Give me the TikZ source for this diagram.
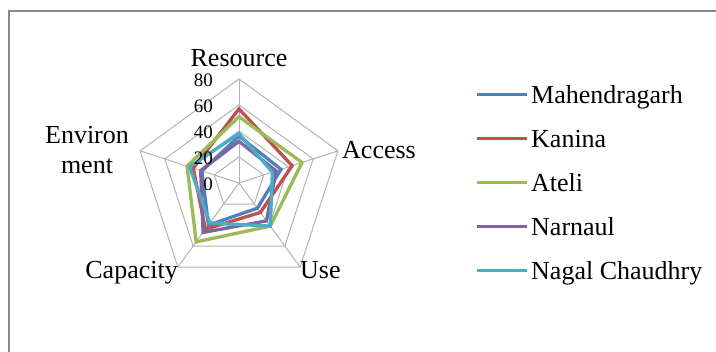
\documentclass[tikz,border=0pt]{standalone}
\usepackage{fontspec}
\setmainfont{Liberation Serif}
\definecolor{sMah}{HTML}{4F81BD}
\definecolor{sKan}{HTML}{C0504D}
\definecolor{sAte}{HTML}{9BBB59}
\definecolor{sNar}{HTML}{8064A2}
\definecolor{sNag}{HTML}{4BACC6}
\definecolor{gridc}{HTML}{B3B3B3}
\definecolor{framec}{HTML}{888888}
\tikzset{
  gridline/.style={draw=gridc, line width=1pt},
  series/.style={line width=3.3pt, line join=miter},
  axislabel/.style={font=\fontsize{26}{30}\selectfont, inner sep=0pt},
  ticklabel/.style={font=\fontsize{19}{20}\selectfont, inner sep=0pt, anchor=east},
  legtext/.style={font=\fontsize{26}{30}\selectfont, inner sep=0pt, anchor=base west},
}
\begin{document}
\begin{tikzpicture}[x=1pt, y=-1pt]
\useasboundingbox (0,0) rectangle (716,352);
% outer frame of the chart area
\draw[framec, line width=2pt] (9,352) -- (9,11) -- (716,11);

% radar chart: 80 units = 104pt
\begin{scope}[shift={(239,183)}, yscale=-1]
  \def\sc{1.3}
  \coordinate (ctr) at (0,0);
  % rings
  \foreach \r in {20,40,60,80}{
    \draw[gridline] (90:\r*\sc) -- (18:\r*\sc) -- (-54:\r*\sc) -- (-126:\r*\sc) -- (162:\r*\sc) -- cycle;
  }
  % spokes
  \foreach \a/\n in {90/r,18/a,-54/u,-126/c,162/e}{
    \coordinate (tip\n) at (\a:80*\sc);
    \draw[gridline] (ctr) -- (tip\n);
  }
  % series: Resource, Access, Use, Capacity, Environment
  \foreach \col/\va/\vb/\vc/\vd/\ve in {
      sMah/36/34/24/40/30,
      sKan/57/43/28/44/37,
      sAte/51/51/41/56/42,
      sNar/32/30/36/47/31,
      sNag/38/27/41/38/40}{
    \draw[series, \col] (90:\va*\sc) -- (18:\vb*\sc) -- (-54:\vc*\sc) -- (-126:\vd*\sc) -- (162:\ve*\sc) -- cycle;
  }
\end{scope}

% tick labels on the Resource axis
\foreach \v/\n in {0/t0,20/t20,40/t40,60/t60,80/t80}{
  \node[ticklabel] (\n) at (213,{183-1.3*\v+1}) {\v};
}

% axis labels
\node[axislabel, anchor=base] (lres) at (239,67) {Resource};
\node[axislabel, anchor=base west] (lacc) at (342,159) {Access};
\node[axislabel, anchor=base west] (luse) at (300,279) {Use};
\node[axislabel, anchor=base east] (lcap) at (178,279) {Capacity};
\node[axislabel, anchor=base, align=center] (lenv) at (87,174) {Environ\\ment};

% legend
\foreach \col/\txt/\yy/\n in {
    sMah/Mahendragarh/95/lg1,
    sKan/Kanina/139/lg2,
    sAte/Ateli/183/lg3,
    sNar/Narnaul/227/lg4,
    sNag/Nagal Chaudhry/271/lg5}{
  \coordinate (\n a) at (477,\yy);
  \coordinate (\n b) at (527,\yy);
  \draw[line width=3pt, \col] (\n a) -- (\n b);
  \node[legtext] (\n) at (531,\yy+9) {\txt};
}
\end{tikzpicture}
\end{document}
